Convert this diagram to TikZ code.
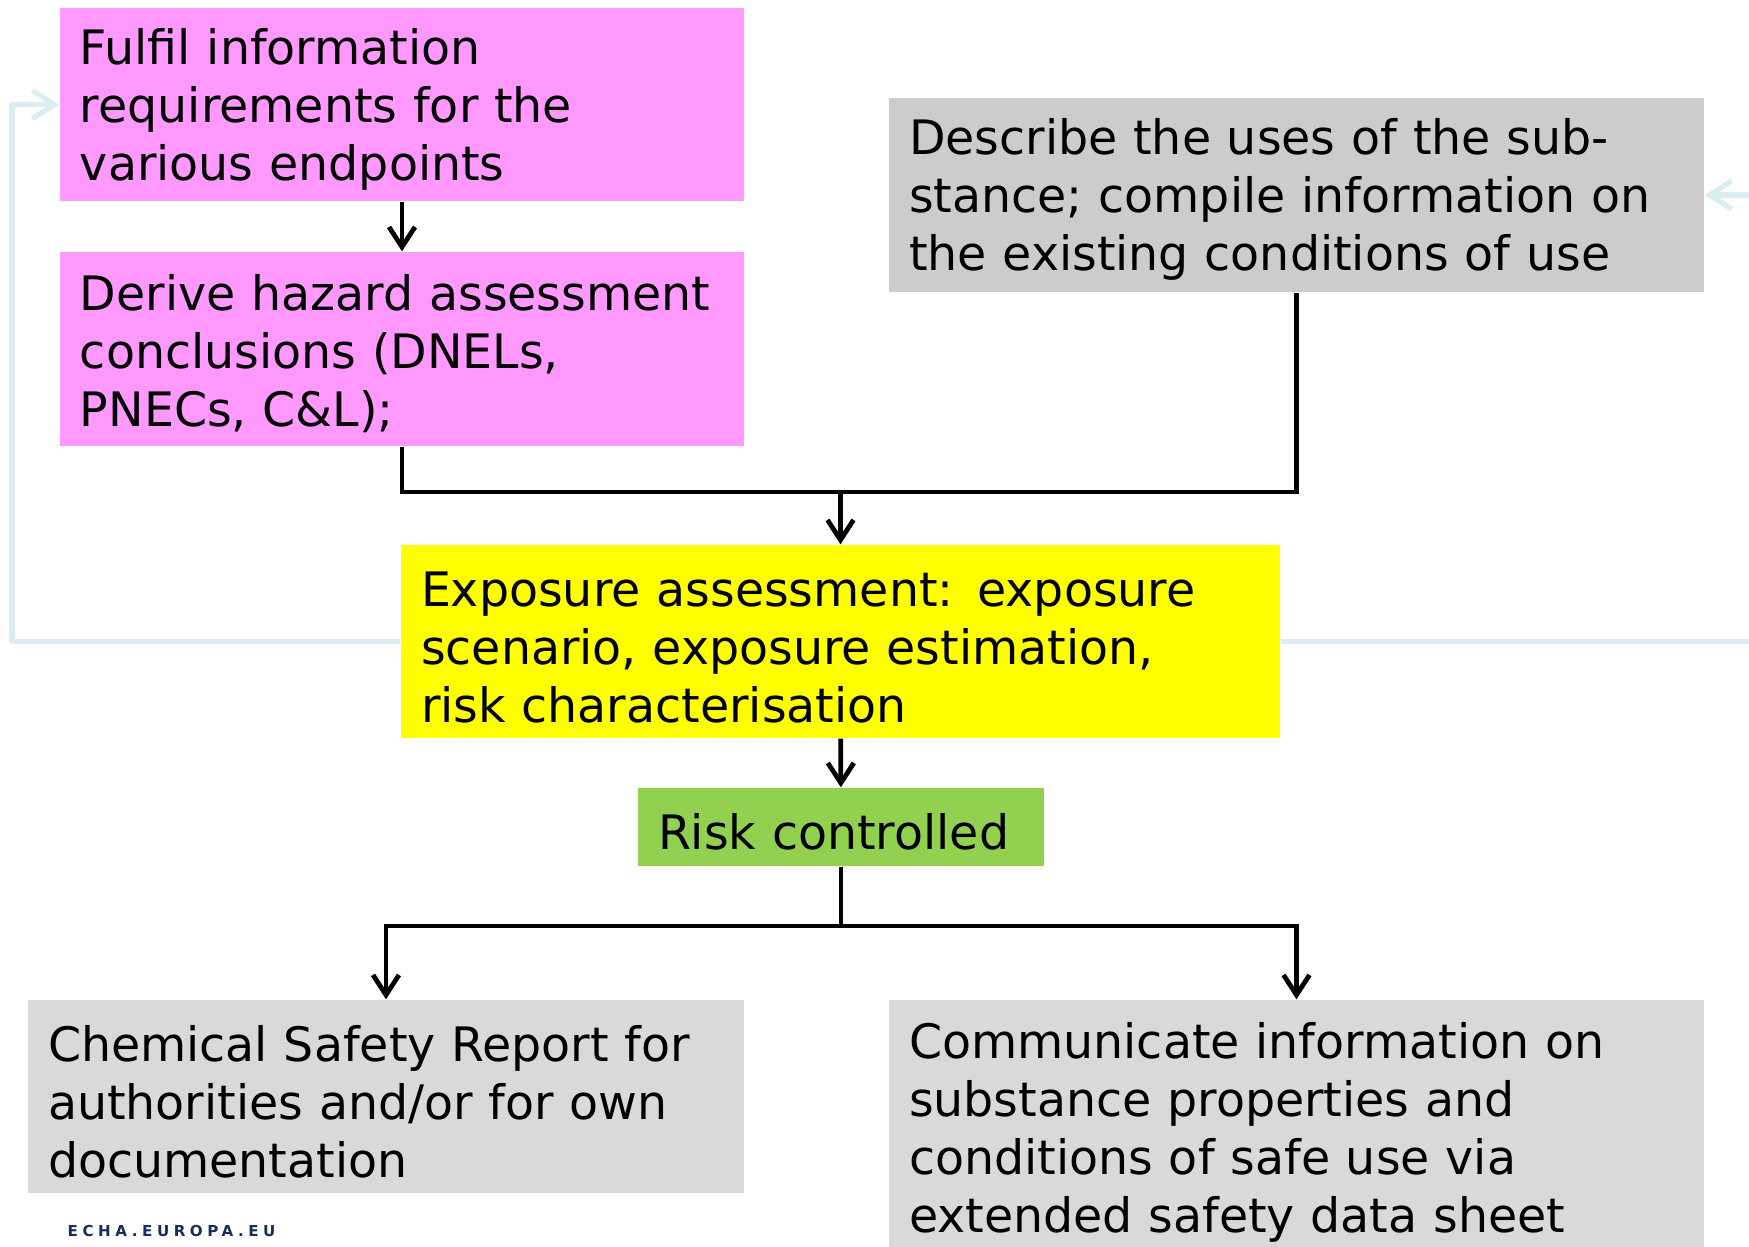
\documentclass[tikz,border=0pt]{standalone}
\usepackage{fontspec}
\setmainfont{DejaVu Sans}
\usetikzlibrary{arrows.meta}
\definecolor{pinkbox}{RGB}{255,153,255}
\definecolor{greybox}{RGB}{204,204,204}
\definecolor{lightgreybox}{RGB}{217,217,217}
\definecolor{yellowbox}{RGB}{255,255,0}
\definecolor{greenbox}{RGB}{146,208,80}
\definecolor{loopblue}{RGB}{218,238,241}
\definecolor{echablue}{RGB}{25,45,90}
\begin{document}
\begin{tikzpicture}[>={Straight Barb[length=2mm,width=2.6mm]},
  box/.style={inner xsep=0.2cm,inner ysep=0pt,align=left,font=\fontsize{13.5pt}{16.5pt}\selectfont,execute at begin node={\rule{0pt}{13pt}}},
  link/.style={line width=1.35pt},
  feedback/.style={line width=1.5pt,color=loopblue,line join=round,->,>={Straight Barb[length=2.2mm,width=2.8mm]}}]
\useasboundingbox (0,0) rectangle (17.49,-12.46);
\node[box,fill=pinkbox,minimum width=6.84cm,minimum height=1.93cm,text width=6.44cm] (fulfil) at (4.02,-1.045) {Fulfil information\\requirements for the\\various endpoints};
\node[box,fill=pinkbox,minimum width=6.84cm,minimum height=1.94cm,text width=6.44cm] (derive) at (4.02,-3.49) {Derive hazard assessment\\conclusions (DNELs,\\PNECs, C\&L);};
\node[box,fill=greybox,minimum width=8.15cm,minimum height=1.94cm,text width=7.75cm] (describe) at (12.965,-1.95) {Describe the uses of the sub-\\stance; compile information on\\the existing conditions of use};
\node[box,fill=yellowbox,minimum width=8.79cm,minimum height=1.93cm,text width=8.39cm] (exposure) at (8.405,-6.415) {Exposure assessment: exposure\\scenario, exposure estimation,\\risk characterisation};
\node[box,fill=greenbox,minimum width=4.06cm,minimum height=0.78cm,text width=3.66cm] (risk) at (8.41,-8.27) {Risk controlled};
\node[box,fill=lightgreybox,minimum width=7.16cm,minimum height=1.93cm,text width=6.76cm] (csr) at (3.86,-10.965) {Chemical Safety Report for\\authorities and/or for own\\documentation};
\node[box,fill=lightgreybox,minimum width=8.15cm,minimum height=2.55cm,text width=7.75cm] (communicate) at (12.965,-11.275) {Communicate information on\\substance properties and\\conditions of safe use via\\extended safety data sheet};
\node[anchor=west,inner sep=0pt,text=echablue,font=\fontsize{4.3pt}{5pt}\selectfont\bfseries\addfontfeature{LetterSpace=30}] (echa) at (0.67,-12.31) {ECHA.EUROPA.EU};
\coordinate (join) at (8.405,-4.92);
\coordinate (split) at (8.41,-9.26);
\draw[link,->] (fulfil) -- (derive);
\draw[link] (derive.south) |- (join) -| (describe.south);
\draw[link,->] (join) -- (exposure.north);
\draw[link,->] (exposure) -- (risk);
\draw[link] (risk.south) -- (split);
\draw[link,->] (split) -| (csr.north);
\draw[link,->] (split) -| (communicate.north);
\draw[feedback] (exposure.west) -- (0.12,-6.415) |- (fulfil.west);
\draw[feedback] (exposure.east) -- (17.7,-6.415) |- (describe.east);
\end{tikzpicture}
\end{document}
